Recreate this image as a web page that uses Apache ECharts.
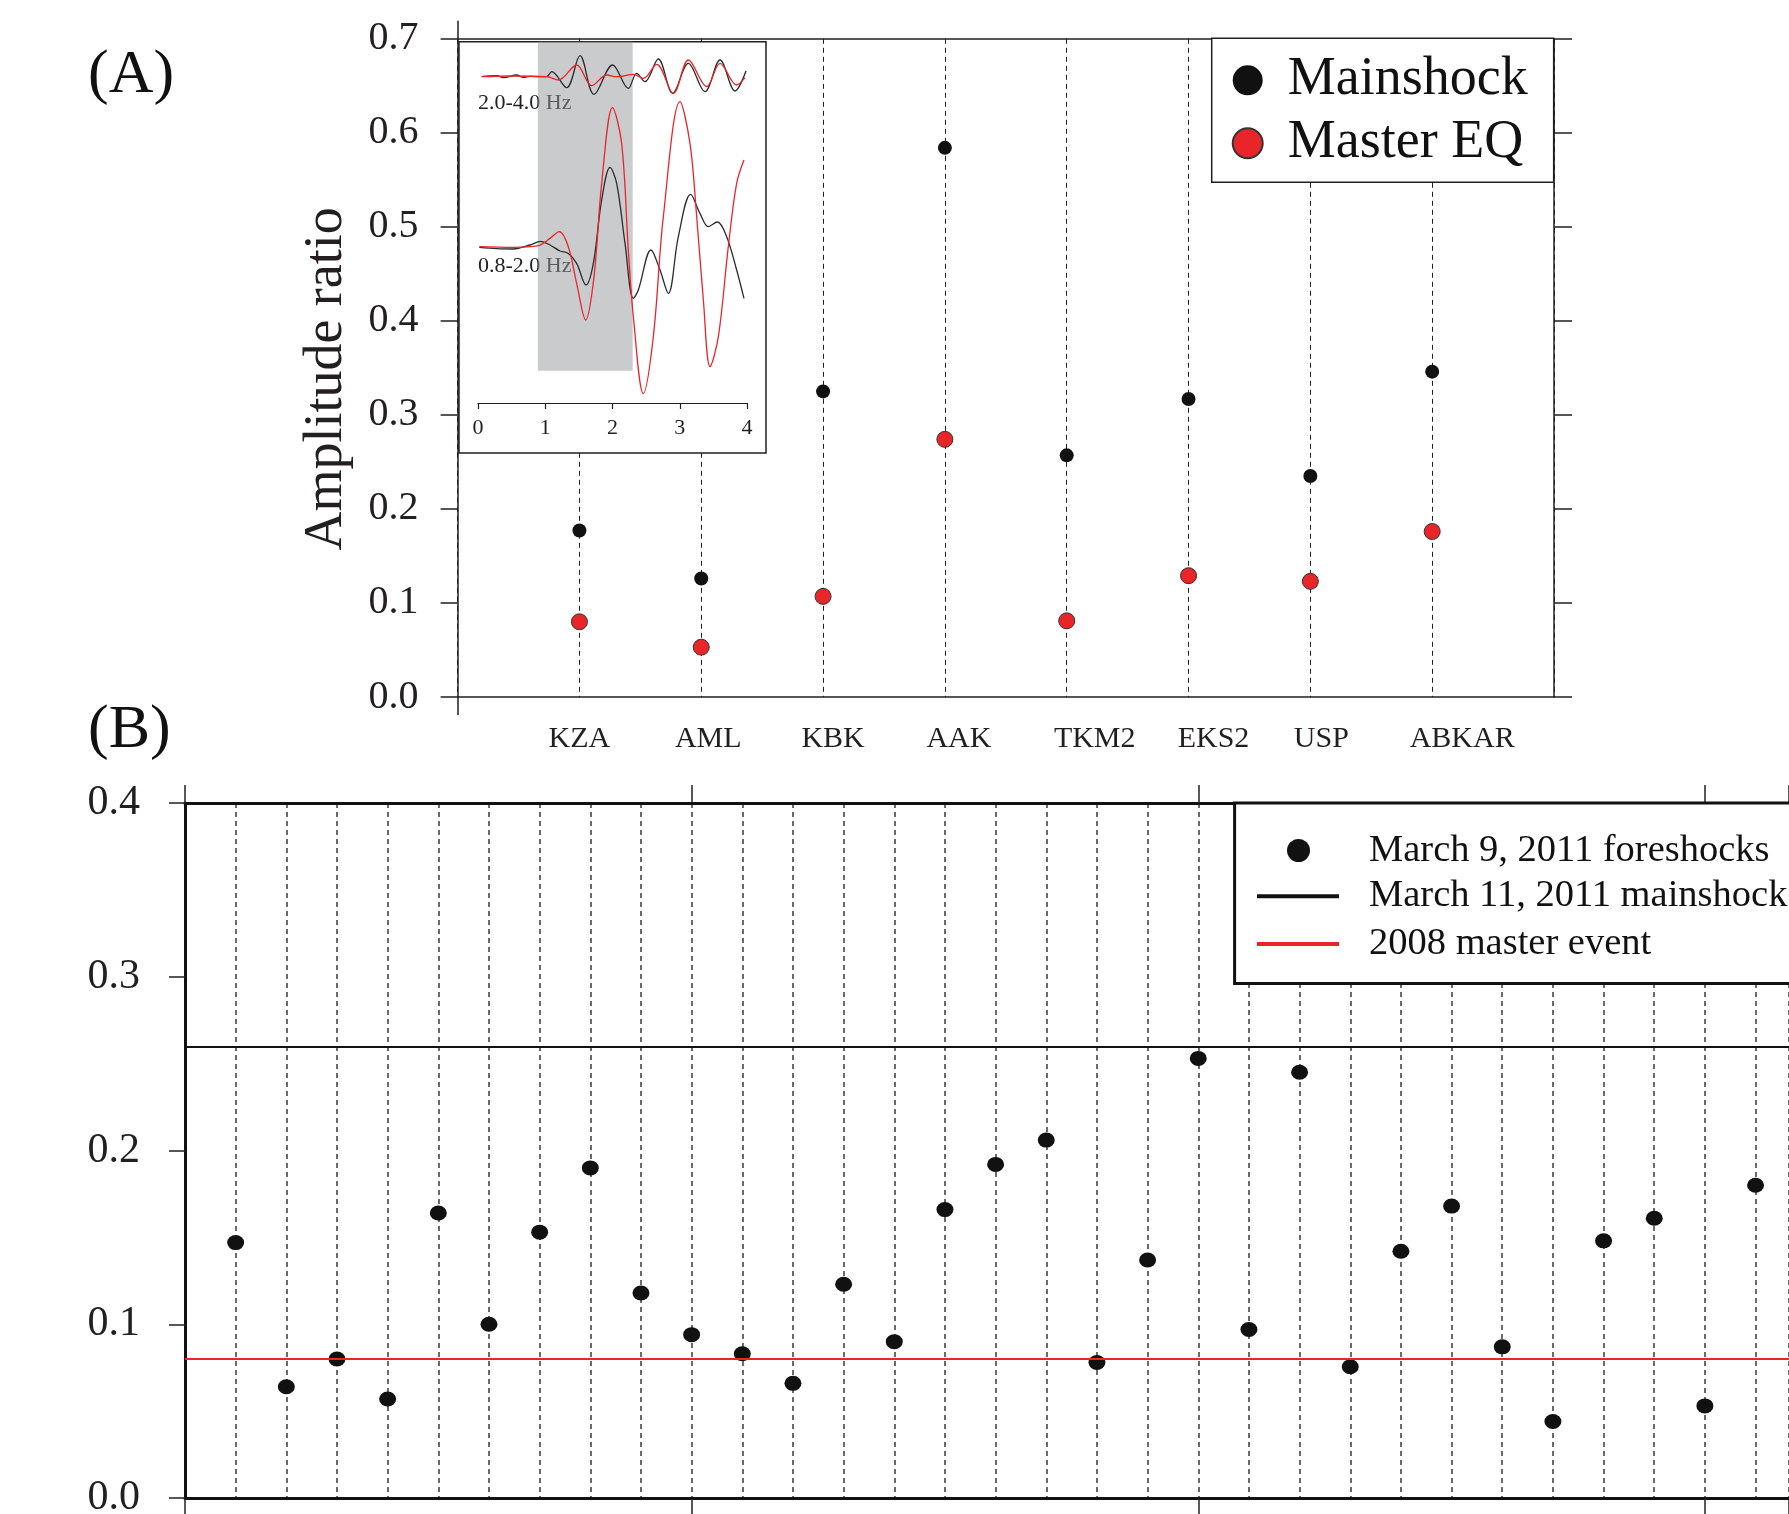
<!DOCTYPE html>
<html>
<head>
<meta charset="utf-8">
<script src="https://cdn.jsdelivr.net/npm/echarts@6/dist/echarts.min.js"></script>
<style>
  html, body { margin: 0; padding: 0; background: #fff; }
  #chart { width: 1789px; height: 1514px; }
</style>
</head>
<body>
<div id="chart"></div>
<script>
// (A) stations and amplitude ratios
const stations = ['KZA', 'AML', 'KBK', 'AAK', 'TKM2', 'EKS2', 'USP', 'ABKAR'];
const mainshockRatio = [0.177, 0.126, 0.325, 0.584, 0.257, 0.317, 0.235, 0.346];
const masterRatio = [0.080, 0.053, 0.107, 0.274, 0.081, 0.129, 0.123, 0.176];
const ratioTicksA = [0, 0.7, 0.1]; // min, max, step

// (A) inset waveforms, [time (s), amplitude]
const hfMain = [[0.055, 0], [0.278, 0.1], [0.377, -0.1], [0.575, 0.17], [0.674, -0.07], [0.773, 0.03], [1.021, 0],
  [1.095, 0.5], [1.318, -1.1], [1.517, 2.1], [1.725, -1.77], [2.002, 1.17], [2.235, -1.17], [2.359, 0.33],
  [2.483, -0.5], [2.681, 1.77], [2.895, -1.67], [3.128, 1.33], [3.375, -1.5], [3.599, 1.67], [3.822, -1.43], [3.985, 0.57]];
const hfMaster = [[0.055, 0], [0.476, 0.07], [1.021, 0], [1.195, -0.33], [1.467, 1.17], [1.69, -0.9], [1.913, 0.17],
  [2.062, 0], [2.31, 0.23], [2.458, -0.17], [2.657, 1.23], [2.905, -1.67], [3.128, 1.67], [3.4, -1.0],
  [3.599, 1.33], [3.846, -0.83], [3.97, -0.1]];
const lfMain = [[0.02, -0.07], [0.278, -0.2], [0.525, -0.23], [0.773, 0.17], [0.932, 0.53], [1.071, 0.17], [1.219, -0.43],
  [1.343, -0.67], [1.467, -1.67], [1.606, -3.83], [1.715, -1.67], [1.839, 4.67], [1.963, 7.93], [2.062, 6.33],
  [2.186, 0.33], [2.31, -5.17], [2.384, -4.33], [2.572, -0.33], [2.706, -2.33], [2.83, -4.67], [2.979, 1.0],
  [3.162, 5.23], [3.301, 3.33], [3.425, 2.0], [3.559, 2.47], [3.698, 1.0], [3.846, -2.33], [3.955, -5.17]];
const lfMaster = [[0.02, 0], [0.525, -0.07], [0.897, 0.1], [1.071, 0.83], [1.209, 1.5], [1.343, 0], [1.467, -3.67],
  [1.601, -7.33], [1.725, -3.0], [1.839, 6.33], [2.0, 13.9], [2.136, 10.33], [2.235, -0.33], [2.31, -7.0],
  [2.458, -14.7], [2.607, -9.0], [2.756, 3.0], [3.004, 14.5], [3.152, 10.33], [3.252, 3.0], [3.351, -5.33],
  [3.45, -12.0], [3.574, -9.0], [3.722, 0], [3.846, 6.33], [3.955, 8.67]];
const hfOffset = 17; // trace offset of the 2.0-4.0 Hz pair
const timeTicks = [0, 4, 1];
const windowSec = [0.89, 2.30];

// (B) foreshock amplitude ratios
const foreshockRatio = [0.147, 0.064, 0.080, 0.057, 0.164, 0.100, 0.153, 0.190, 0.118, 0.094,
  0.083, 0.066, 0.123, 0.090, 0.166, 0.192, 0.206, 0.078, 0.137, 0.253,
  0.097, 0.245, 0.0755, 0.142, 0.168, 0.087, 0.044, 0.148, 0.161, 0.053, 0.180];
const mainshockLevel = 0.258;
const masterLevel = 0.081;
const ratioTicksB = [0, 0.4, 0.1];

const FONT = '"Liberation Serif", "DejaVu Serif", serif';
const INK = '#231f20';
const RED = '#e8262a';

// 站名标签的水平微调（像素）
const labelNudge = [0, 7, 10, 14, 28, 25, 11, 30];

let chart = echarts.init(document.getElementById('chart'));

// 轴的通用样式
function tick(len) {
    return { show: true, inside: false, length: len, lineStyle: { color: INK, width: 1.5 } };
}
function line(w, c) {
    return { show: true, onZero: false, lineStyle: { color: c || INK, width: w } };
}

let stationRich = {};
labelNudge.forEach(function (n, i) {
    stationRich['s' + i] = { fontSize: 30, fontFamily: FONT, color: INK, padding: [0, 0, 0, 2 * n] };
});

var option = {
    backgroundColor: '#fff',
    animation: false,
    textStyle: { fontFamily: FONT, color: INK },
    grid: [
        // A main
        { left: 457.6, top: 38.8, right: 235, bottom: 817, outerBoundsMode: 'none' },
        // A inset frame
        { left: 459, top: 41.7, right: 1023, bottom: 1061, show: true, backgroundColor: '#fff',
          borderColor: INK, borderWidth: 1.5, z: 3, outerBoundsMode: 'none' },
        // A inset plot
        { left: 478, top: 41.7, right: 1042, bottom: 1111, outerBoundsMode: 'none' },
        // B
        { left: 185, top: 803, right: 0, bottom: 16, outerBoundsMode: 'none' }
    ],
    xAxis: [
        {
            gridIndex: 0, type: 'value', min: 0, max: stations.length + 1, interval: 1,
            axisLine: line(1.5),
            axisTick: Object.assign(tick(18), { customValues: [0] }),
            axisLabel: {
                margin: 27, fontSize: 30, fontFamily: FONT, color: INK, rich: stationRich,
                formatter: function (v) {
                    return stations[v - 1] ? '{s' + (v - 1) + '|' + stations[v - 1] + '}' : '';
                }
            },
            splitLine: { show: false }
        },
        {
            gridIndex: 0, type: 'value', position: 'top', min: 0, max: stations.length + 1, interval: 1,
            axisLine: line(1.5),
            axisTick: Object.assign(tick(18), { customValues: [0] }),
            axisLabel: { show: false }, splitLine: { show: false }
        },
        {
            // A 的虚线
            gridIndex: 0, type: 'value', min: 0, max: stations.length + 1, interval: 1,
            axisLine: { show: false }, axisTick: { show: false }, axisLabel: { show: false },
            splitLine: { show: true, lineStyle: { color: INK, width: 1, type: [5, 4] } }
        },
        { gridIndex: 1, type: 'value', show: false, min: 0, max: 1 },
        {
            gridIndex: 2, type: 'value', min: timeTicks[0], max: timeTicks[1], interval: timeTicks[2], z: 6,
            axisLine: line(1.2),
            axisTick: { length: 6, lineStyle: { color: INK, width: 1.2 } },
            axisLabel: { margin: 14, fontSize: 22, fontFamily: FONT, color: INK },
            splitLine: { show: false }
        },
        {
            gridIndex: 3, type: 'value', min: 0, max: 31.66, interval: 10,
            axisLine: line(3, '#111'),
            axisTick: tick(16), axisLabel: { show: false }, splitLine: { show: false }
        },
        {
            gridIndex: 3, type: 'value', position: 'top', min: 0, max: 31.66, interval: 10,
            axisLine: line(3, '#111'),
            axisTick: tick(18), axisLabel: { show: false }, splitLine: { show: false }
        },
        {
            // 虚线：每个前震一条
            gridIndex: 3, type: 'value', position: 'bottom', min: 0, max: 31.66, interval: 1,
            axisLine: { show: false }, axisTick: { show: false }, axisLabel: { show: false },
            splitLine: { show: true, lineStyle: { color: '#3a3a3a', width: 1.5, type: [5, 4] } }
        }
    ],
    yAxis: [
        {
            gridIndex: 0, type: 'value', min: ratioTicksA[0], max: ratioTicksA[1], interval: ratioTicksA[2],
            name: 'Amplitude ratio', nameLocation: 'middle', nameGap: 104,
            nameTextStyle: { fontSize: 54, fontFamily: FONT, color: INK, padding: [0, 22, 0, 0] },
            axisLine: line(1.5),
            axisTick: tick(17),
            axisLabel: { margin: 39, fontSize: 40, fontFamily: FONT, color: INK,
                formatter: function (v) { return v.toFixed(1); } },
            splitLine: { show: false }
        },
        {
            gridIndex: 0, type: 'value', position: 'right', min: ratioTicksA[0], max: ratioTicksA[1], interval: ratioTicksA[2],
            axisLine: line(1.5),
            axisTick: tick(18), axisLabel: { show: false }, splitLine: { show: false }
        },
        { gridIndex: 1, type: 'value', show: false, min: 0, max: 1 },
        { gridIndex: 2, type: 'value', show: false, min: -15.63, max: 20.5 },
        {
            gridIndex: 3, type: 'value', min: ratioTicksB[0], max: ratioTicksB[1], interval: ratioTicksB[2],
            axisLine: line(3, '#111'),
            axisTick: tick(16),
            axisLabel: { margin: 45, fontSize: 42, fontFamily: FONT, color: INK,
                formatter: function (v) { return v.toFixed(1); } },
            splitLine: { show: false }
        }
    ],
    legend: [
        {
            data: ['Mainshock', 'Master EQ'], orient: 'vertical', left: 1211.7, top: 38.3,
            padding: [15, 26, 12, 20], itemGap: 9, itemWidth: 30, itemHeight: 30,
            backgroundColor: '#fff', borderColor: INK, borderWidth: 1.5, borderRadius: 0,
            textStyle: { fontSize: 54, fontFamily: FONT, color: '#111', padding: [0, 0, 0, 20] }
        },
        {
            data: [{ name: 'March 9, 2011 foreshocks', icon: 'circle' }], left: 1287, top: 831, padding: 0,
            itemWidth: 23, itemHeight: 23,
            textStyle: { fontSize: 38.5, fontFamily: FONT, color: '#111', padding: [0, 0, 0, 54] }
        },
        {
            data: [{ name: 'March 11, 2011 mainshock', icon: 'rect' }, { name: '2008 master event', icon: 'rect' }],
            orient: 'vertical', left: 1257, top: 876.7, padding: 0, itemGap: 8.8,
            itemWidth: 82, itemHeight: 4,
            textStyle: { fontSize: 38.5, fontFamily: FONT, color: '#111', padding: [0, 0, 0, 25] }
        }
    ],
    graphic: [
        { type: 'text', left: 88, top: 45, style: { text: '(A)', font: '62px ' + FONT, fill: '#111' } },
        { type: 'text', left: 88, top: 700, style: { text: '(B)', font: '62px ' + FONT, fill: '#111' } },
        { type: 'text', left: 478, top: 92, z: 4, style: { text: '2.0-4.0 Hz', font: '22px ' + FONT, fill: '#222' } },
        { type: 'text', left: 478, top: 255, z: 4, style: { text: '0.8-2.0 Hz', font: '22px ' + FONT, fill: '#222' } },
        { type: 'rect', z: 3, shape: { x: 1234.6, y: 803, width: 700, height: 180.5 },
          style: { fill: '#fff', stroke: '#111', lineWidth: 3 } }
    ],
    series: [
        {
            name: 'Mainshock', type: 'scatter', xAxisIndex: 0, yAxisIndex: 0,
            symbolSize: 14, itemStyle: { color: '#111', opacity: 1 },
            data: stations.map(function (s, i) { return [i + 1, mainshockRatio[i]]; })
        },
        {
            name: 'Master EQ', type: 'scatter', xAxisIndex: 0, yAxisIndex: 0,
            symbolSize: 16, itemStyle: { color: RED, borderColor: '#333', borderWidth: 1, opacity: 1 },
            data: stations.map(function (s, i) { return [i + 1, masterRatio[i]]; })
        },
        {
            // 灰色时间窗
            type: 'line', xAxisIndex: 4, yAxisIndex: 3, z: 5, data: [], silent: true,
            markArea: {
                silent: true, z: 5,
                itemStyle: { color: 'rgba(150,152,156,0.5)' },
                data: [[{ coord: [windowSec[0], 20.5] }, { coord: [windowSec[1], -12.4] }]]
            }
        },
        {
            type: 'line', xAxisIndex: 4, yAxisIndex: 3, z: 6, smooth: 0.35, showSymbol: false, silent: true,
            lineStyle: { color: '#2b2b2b', width: 1.3 },
            data: hfMain.map(function (p) { return [p[0], p[1] + hfOffset]; })
        },
        {
            type: 'line', xAxisIndex: 4, yAxisIndex: 3, z: 6, smooth: 0.35, showSymbol: false, silent: true,
            lineStyle: { color: RED, width: 1.3 },
            data: hfMaster.map(function (p) { return [p[0], p[1] + hfOffset]; })
        },
        {
            type: 'line', xAxisIndex: 4, yAxisIndex: 3, z: 6, smooth: 0.35, showSymbol: false, silent: true,
            lineStyle: { color: '#2b2b2b', width: 1.3 }, data: lfMain
        },
        {
            type: 'line', xAxisIndex: 4, yAxisIndex: 3, z: 6, smooth: 0.35, showSymbol: false, silent: true,
            lineStyle: { color: RED, width: 1.3 }, data: lfMaster
        },
        {
            name: 'March 9, 2011 foreshocks', type: 'scatter', xAxisIndex: 5, yAxisIndex: 4,
            symbolSize: [17, 15], itemStyle: { color: '#111', opacity: 1 },
            data: foreshockRatio.map(function (v, i) { return [i + 1, v]; })
        },
        {
            name: 'March 11, 2011 mainshock', type: 'line', xAxisIndex: 5, yAxisIndex: 4, data: [],
            color: '#111', itemStyle: { color: '#111' }, lineStyle: { color: '#111' },
            markLine: { silent: true, symbol: 'none', label: { show: false },
                lineStyle: { color: '#111', width: 2, type: 'solid' }, data: [{ yAxis: mainshockLevel }] }
        },
        {
            name: '2008 master event', type: 'line', xAxisIndex: 5, yAxisIndex: 4, data: [],
            color: RED, itemStyle: { color: RED }, lineStyle: { color: RED },
            markLine: { silent: true, symbol: 'none', label: { show: false },
                lineStyle: { color: RED, width: 2, type: 'solid' }, data: [{ yAxis: masterLevel }] }
        }
    ]
};

chart.setOption(option);
</script>
</body>
</html>
